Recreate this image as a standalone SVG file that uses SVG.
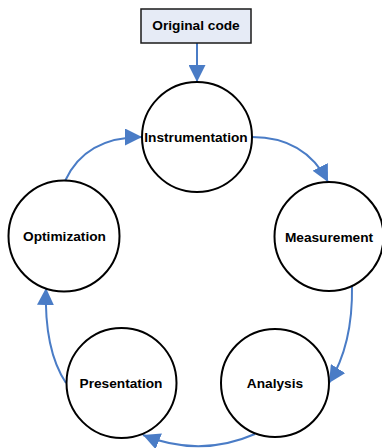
<svg xmlns="http://www.w3.org/2000/svg" width="382" height="448" viewBox="0 0 382 448">
  <style>
    .node circle { fill: #ffffff; stroke: #000000; stroke-width: 2; }
    .box { fill: #e6ebf6; stroke: #1a1a1a; stroke-width: 1.5; }
    .label { font-family: "Liberation Sans", Arial, sans-serif; font-weight: bold; font-size: 13.7px; fill: #000000; text-anchor: middle; }
    .conn { fill: none; stroke: #4a7cc6; stroke-width: 2; marker-end: url(#arrow); }
  </style>
  <defs>
    <marker id="arrow" markerUnits="userSpaceOnUse" markerWidth="17" markerHeight="17" refX="17" refY="8.5" orient="auto">
      <path d="M0,0 L17,8.5 L0,17 Z" fill="#4a7cc6"/>
    </marker>
  </defs>

  <rect width="382" height="448" fill="#ffffff"/>

  <!-- connectors -->
  <g id="connectors">
    <path class="conn" d="M197,43 L197,82"/>
    <path class="conn" d="M252,137 Q305,137 328,182"/>
    <path class="conn" d="M352,286 Q353,345 329,383"/>
    <path class="conn" d="M255,434 Q200,458 143,435"/>
    <path class="conn" d="M66,383 Q44,350 46,288"/>
    <path class="conn" d="M65,181 Q85,137 142,137"/>
  </g>

  <!-- nodes -->
  <g id="original-code" class="node">
    <rect class="box" x="141" y="9" width="110" height="34"/>
    <text class="label" x="196" y="30">Original code</text>
  </g>
  <g id="instrumentation" class="node">
    <circle cx="197" cy="137" r="55"/>
    <text class="label" x="196" y="142">Instrumentation</text>
  </g>
  <g id="measurement" class="node">
    <circle cx="329" cy="236.5" r="54.5"/>
    <text class="label" x="329" y="241.5">Measurement</text>
  </g>
  <g id="analysis" class="node">
    <circle cx="275" cy="383" r="54"/>
    <text class="label" x="275" y="387.5">Analysis</text>
  </g>
  <g id="presentation" class="node">
    <circle cx="121.5" cy="383" r="55"/>
    <text class="label" x="121" y="387.5">Presentation</text>
  </g>
  <g id="optimization" class="node">
    <circle cx="64" cy="236" r="55.5"/>
    <text class="label" x="64.5" y="240.5">Optimization</text>
  </g>
</svg>
